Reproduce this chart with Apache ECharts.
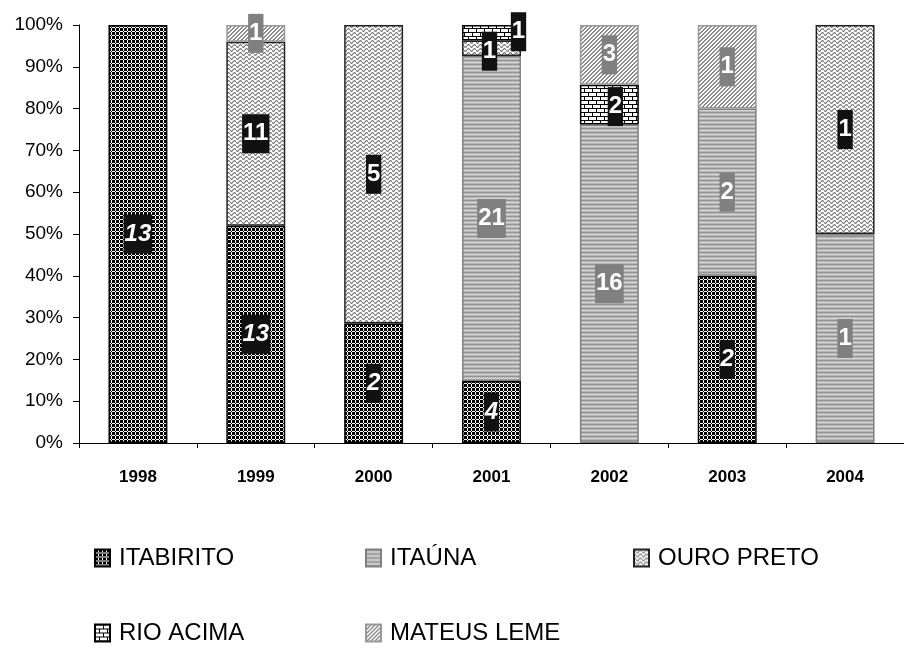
<!DOCTYPE html>
<html>
<head>
<meta charset="utf-8">
<script src="https://cdn.jsdelivr.net/npm/echarts@6/dist/echarts.min.js"></script>
<style>
  html, body { margin: 0; padding: 0; background: #fff; }
  #chart { width: 904px; height: 654px; }
</style>
</head>
<body>
<div id="chart"></div>
<script>
// Municipality counts per year (shown as 100% stacked columns)
const years      = ['1998', '1999', '2000', '2001', '2002', '2003', '2004'];
const itabirito  = [13, 13, 2, 4, 0, 2, 0];
const itauna     = [0, 0, 0, 21, 16, 2, 1];
const ouroPreto  = [0, 11, 5, 1, 0, 0, 1];
const rioAcima   = [0, 0, 0, 1, 2, 0, 0];
const mateusLeme = [0, 1, 0, 0, 3, 1, 0];

const SANS = '"Liberation Sans", Arial, sans-serif';

// Build a small repeating tile for a pattern fill
function tile(w, h, paint) {
  const c = document.createElement('canvas');
  c.width = w; c.height = h;
  const g = c.getContext('2d');
  g.fillStyle = '#fff';
  g.fillRect(0, 0, w, h);
  paint(g);
  return { image: c, repeat: 'repeat' };
}
function px(g, color, cells) {
  g.fillStyle = color;
  cells.forEach(([x, y]) => g.fillRect(x, y, 1, 1));
}

const fills = {
  checker: tile(4, 4, g => {
    g.fillStyle = '#000';
    g.fillRect(0, 0, 3, 3);
    g.fillRect(3, 3, 1, 1);
  }),
  stripes: tile(4, 4, g => {
    const rows = ['#949494', '#b6b6b6', '#d6d6d6', '#b6b6b6'];
    rows.forEach((c, i) => { g.fillStyle = c; g.fillRect(0, i, 4, 1); });
  }),
  zigzag: tile(6, 4, g => {
    px(g, '#7a7a7a', [[0, 0], [1, 1], [5, 1], [2, 2], [4, 2], [3, 3]]);
    px(g, '#c4c4c4', [[1, 0], [5, 0], [0, 1], [4, 1], [3, 2], [2, 3], [4, 3]]);
  }),
  brick: tile(8, 8, g => {
    g.fillStyle = '#000';
    g.fillRect(0, 0, 8, 1);
    g.fillRect(0, 4, 8, 1);
    g.fillRect(0, 1, 1, 3);
    g.fillRect(4, 5, 1, 3);
  }),
  hatch: tile(4, 4, g => {
    const cells = [];
    for (let y = 0; y < 4; y++) for (let x = 0; x < 4; x++) if ((x + y) % 4 < 2) cells.push([x, y]);
    px(g, '#8c8c8c', cells);
  })
};

const totals = years.map((_, i) =>
  itabirito[i] + itauna[i] + ouroPreto[i] + rioAcima[i] + mateusLeme[i]);

// Per-label nudges where neighbouring labels would collide
const labelNudges = {
  'OURO PRETO': { 3: [-2, 3] },
  'RIO ACIMA': { 3: [27, -1], 4: [6, 2] }
};

const seriesDefs = [
  { name: 'ITABIRITO',   counts: itabirito,  fill: fills.checker, border: '#000',    tag: '#111', italic: true },
  { name: 'ITAÚNA',      counts: itauna,     fill: fills.stripes, border: '#808080', tag: '#808080' },
  { name: 'OURO PRETO',  counts: ouroPreto,  fill: fills.zigzag,  border: '#222',    tag: '#111' },
  { name: 'RIO ACIMA',   counts: rioAcima,   fill: fills.brick,   border: '#000',    tag: '#111' },
  { name: 'MATEUS LEME', counts: mateusLeme, fill: fills.hatch,   border: '#999',    tag: '#808080' }
];

const series = seriesDefs.map(d => ({
  name: d.name,
  type: 'bar',
  stack: 'share',
  barWidth: '50%',
  itemStyle: { color: d.fill, borderColor: d.border, borderWidth: 1.5 },
  label: {
    show: true,
    position: 'inside',
    formatter: p => String(d.counts[p.dataIndex]),
    color: '#fff',
    fontFamily: SANS,
    fontWeight: 'bold',
    fontStyle: d.italic ? 'italic' : 'normal',
    fontSize: 24,
    lineHeight: 30,
    backgroundColor: d.tag,
    padding: [5, 1, 4, 1]
  },
  data: d.counts.map((c, i) => {
    if (!c) return null;
    const item = { value: c / totals[i] * 100 };
    const nudge = labelNudges[d.name] && labelNudges[d.name][i];
    if (nudge) item.label = { offset: nudge };
    return item;
  })
}));

// One legend block per entry, laid out as a 3-column grid
const legendSpots = [
  { name: 'ITABIRITO',   left: 94,  top: 545 },
  { name: 'ITAÚNA',      left: 365, top: 545 },
  { name: 'OURO PRETO',  left: 633, top: 545 },
  { name: 'RIO ACIMA',   left: 94,  top: 620 },
  { name: 'MATEUS LEME', left: 365, top: 620 }
];
const legend = legendSpots.map(s => ({
  data: [s.name],
  left: s.left,
  top: s.top,
  padding: 0,
  itemWidth: 15,
  itemHeight: 17,
  icon: 'rect',
  selectedMode: false,
  textStyle: { fontFamily: SANS, fontSize: 24, lineHeight: 26, color: '#000', padding: [0, 0, 0, 4] }
}));

const chart = echarts.init(document.getElementById('chart'), null, { renderer: 'canvas' });
chart.setOption({
  animation: false,
  backgroundColor: '#fff',
  grid: { left: 79, right: -12, top: 25, bottom: 211, containLabel: false },
  legend,
  xAxis: {
    type: 'category',
    data: years,
    axisLine: { lineStyle: { color: '#000', width: 1 } },
    axisTick: { show: true, length: 5, lineStyle: { color: '#000' } },
    axisLabel: { color: '#000', fontFamily: SANS, fontWeight: 'bold', fontSize: 17, margin: 26 }
  },
  yAxis: {
    type: 'value',
    min: 0,
    max: 100,
    interval: 10,
    axisLine: { show: true, lineStyle: { color: '#000', width: 1 } },
    axisTick: { show: true, length: 6, lineStyle: { color: '#000' } },
    splitLine: { show: false },
    axisLabel: { formatter: '{value}%', color: '#000', fontFamily: SANS, fontSize: 19, margin: 16 }
  },
  series
});
</script>
</body>
</html>
